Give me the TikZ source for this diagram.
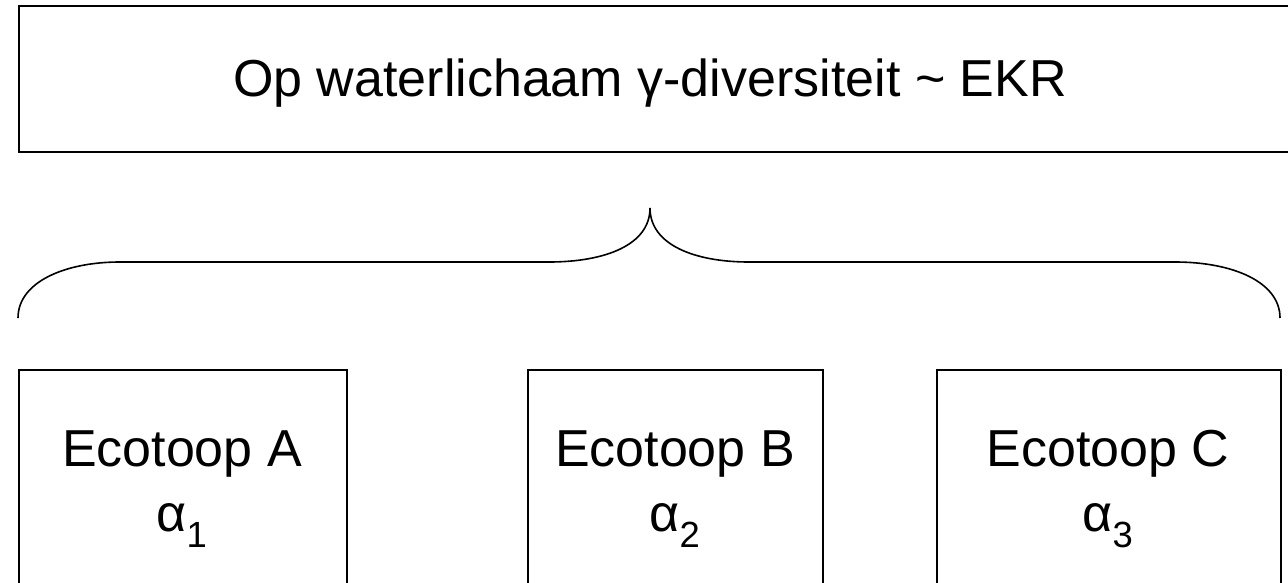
\documentclass[tikz,border=0pt]{standalone}
\usepackage{fontspec}
\setmainfont{Liberation Sans}
\begin{document}
\begin{tikzpicture}[x=1pt,y=-1pt,
  box/.style={draw=black, line width=1.6pt, rectangle, inner sep=0pt},
  lbl/.style={font=\fontsize{52}{68}\selectfont, inner sep=0pt, anchor=base},
  bracepath/.style={draw=black, line width=1.6pt}]
\useasboundingbox (0,0) rectangle (1288,583);
\clip (0,0) rectangle (1288,583);
% top box
\node[box, anchor=north west, minimum width=1320pt, minimum height=146pt] (top) at (18,5) {};
\node[lbl] (toptext) at (650,97) {Op waterlichaam γ-diversiteit \textasciitilde{} EKR};
% brace
\coordinate (bl) at (18,318);
\coordinate (br) at (1280,318);
\coordinate (tip) at (650,208);
\draw[bracepath] (bl) .. controls (18,282) and (65,262) .. (120,262)
  -- (549,262) .. controls (605,262) and (650,245) .. (tip)
  .. controls (650,245) and (695,262) .. (749,262)
  -- (1175,262) .. controls (1233,262) and (1280,282) .. (br);
% bottom boxes
\node[box, anchor=north west, minimum width=328pt, minimum height=260pt] (A) at (18,369) {};
\node[box, anchor=north west, minimum width=295pt, minimum height=260pt] (B) at (527,369) {};
\node[box, anchor=north west, minimum width=344pt, minimum height=260pt] (C) at (936,369) {};
\node[lbl] (Aa) at (182,466) {Ecotoop A};
\node[lbl] (Ab) at (182,531) {α\textsubscript{1}};
\node[lbl] (Ba) at (675,466) {Ecotoop B};
\node[lbl] (Bb) at (675,531) {α\textsubscript{2}};
\node[lbl] (Ca) at (1108,466) {Ecotoop C};
\node[lbl] (Cb) at (1108,531) {α\textsubscript{3}};
\end{tikzpicture}
\end{document}
